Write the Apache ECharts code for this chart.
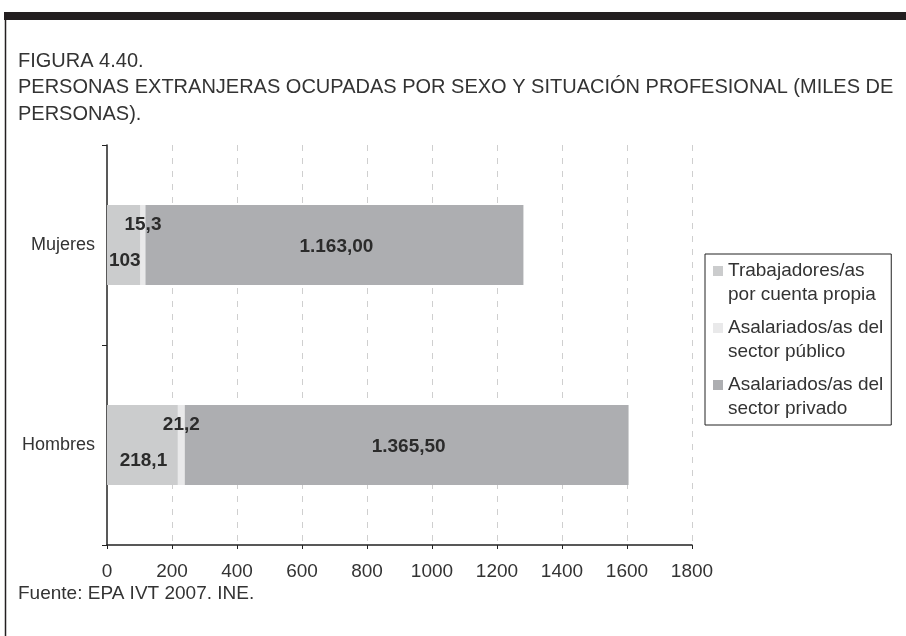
<!DOCTYPE html>
<html><head><meta charset="utf-8">
<script src="https://cdn.jsdelivr.net/npm/echarts@6/dist/echarts.min.js"></script>
<style>html,body{margin:0;padding:0;background:#fff}#c{width:906px;height:636px}</style>
</head><body><div id="c"></div>
<script>
const categories = ['Hombres', 'Mujeres'];
const seriesNames = ['Trabajadores/as\npor cuenta propia', 'Asalariados/as del\nsector público', 'Asalariados/as del\nsector privado'];
const cuentaPropia = [218.1, 103];
const sectorPublico = [21.2, 15.3];
const sectorPrivado = [1365.5, 1163.0];
const xMin = 0, xMax = 1800, xStep = 200;
const titleText = 'FIGURA 4.40.\nPERSONAS EXTRANJERAS OCUPADAS POR SEXO Y SITUACIÓN PROFESIONAL (MILES DE\nPERSONAS).';
const sourceText = 'Fuente: EPA IVT 2007. INE.';

const FONT = '"Liberation Sans", Arial, sans-serif';
const colors = ['#cbcccd', '#e9e9ea', '#adaeb1'];

function fmtShort(v) { return String(v).replace('.', ','); }
function fmtLong(v) {
  const p = Number(v).toFixed(2).split('.');
  return p[0].replace(/\B(?=(\d{3})+(?!\d))/g, '.') + ',' + p[1];
}

const labelBase = { show: true, position: 'inside', fontSize: 19, fontWeight: 'bold', color: '#2b2b2b', fontFamily: FONT };

const chart = echarts.init(document.getElementById('c'), null, { renderer: 'canvas' });
chart.setOption({
  animation: false,
  backgroundColor: '#fff',
  color: colors,
  title: [
    { text: titleText, left: 18, top: 48, padding: 0, textStyle: { fontFamily: FONT, fontSize: 20, fontWeight: 'normal', color: '#333', lineHeight: 26.5 } },
    { text: sourceText, left: 18, top: 584, padding: 0, textStyle: { fontFamily: FONT, fontSize: 19, fontWeight: 'normal', color: '#333' } }
  ],
  graphic: [
    { type: 'rect', shape: { x: 4, y: 12, width: 902, height: 8 }, style: { fill: '#231f20' }, silent: true },
    { type: 'line', shape: { x1: 5.5, y1: 12, x2: 5.5, y2: 636 }, style: { stroke: '#231f20', lineWidth: 1.5 }, silent: true }
  ],
  legend: {
    orient: 'vertical', left: 705, top: 254,
    borderColor: '#222', borderWidth: 1,
    padding: [5, 8, 4, 8],
    itemWidth: 10, itemHeight: 48, itemGap: 9,
    icon: 'path://M0,7h10v10h-10zM0,0h0.01v0.01zM0,48h0.01v0.01z',
    textStyle: { fontFamily: FONT, fontSize: 19, lineHeight: 24, color: '#333' },
    data: seriesNames
  },
  grid: { left: 107, right: 214, top: 145, bottom: 91, containLabel: false },
  xAxis: {
    type: 'value', min: xMin, max: xMax, interval: xStep,
    axisLine: { show: true, lineStyle: { color: '#222', width: 1.5 } },
    axisTick: { show: true, length: 4, lineStyle: { color: '#222' } },
    axisLabel: { fontFamily: FONT, fontSize: 19, color: '#333', margin: 17, formatter: v => String(v) },
    splitLine: { show: true, showMinLine: false, lineStyle: { color: '#cfcfcf', type: [6, 7], width: 1 } }
  },
  yAxis: {
    type: 'category', data: categories,
    axisLine: { show: true, lineStyle: { color: '#222', width: 1.5 } },
    axisTick: { show: true, length: 5, lineStyle: { color: '#222' } },
    axisLabel: { fontFamily: FONT, fontSize: 18, color: '#333', margin: 12 },
    splitLine: { show: false }
  },
  series: [
    { name: seriesNames[0], type: 'bar', stack: 'total', barWidth: '40%', data: cuentaPropia,
      itemStyle: { color: colors[0] },
      label: Object.assign({}, labelBase, { offset: [1, 16], formatter: p => fmtShort(p.value) }) },
    { name: seriesNames[1], type: 'bar', stack: 'total', barWidth: '40%', data: sectorPublico,
      itemStyle: { color: colors[1] },
      label: Object.assign({}, labelBase, { offset: [0, -20], formatter: p => fmtShort(p.value) }) },
    { name: seriesNames[2], type: 'bar', stack: 'total', barWidth: '40%', data: sectorPrivado,
      itemStyle: { color: colors[2] },
      label: Object.assign({}, labelBase, { offset: [2, 2], formatter: p => fmtLong(p.value) }) }
  ]
});
</script></body></html>
